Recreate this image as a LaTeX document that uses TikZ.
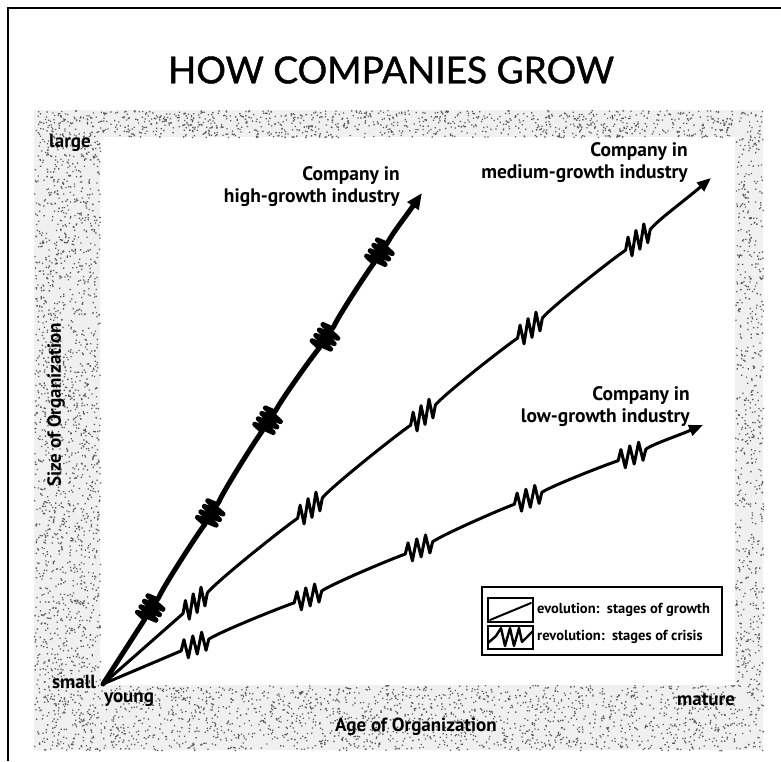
\documentclass[tikz,border=0pt]{standalone}
\usepackage{fontspec}
\setmainfont{PT Sans}
\newfontfamily\titlefont{Lato}[FakeBold=1.2]
\usetikzlibrary{decorations.pathmorphing,arrows.meta,calc}
\newcommand\zzpts[4]{%
  \coordinate (#1a) at ($(#1)!#4!(#2)$);
  \coordinate (#1b) at ($(#1)!#4!(#3)$);}
\begin{document}
\begin{tikzpicture}[x=1pt,y=-1pt,
  lbl/.style={font=\bfseries\fontsize{19.5}{22}\selectfont, align=right, inner sep=0pt, anchor=east},
  axl/.style={font=\bfseries\fontsize{19}{21}\selectfont, inner sep=0pt},
  leg/.style={font=\bfseries\fontsize{14.5}{16}\selectfont, anchor=west, inner sep=0pt},
  curve/.style={line width=3pt, line join=round, line cap=round, -{Triangle[length=14pt,width=11pt]}},
  zzh/.style={decoration={zigzag,segment length=6.5pt,amplitude=10pt}},
  box/.style={draw, line width=2pt},
  dot/.style={fill=black!65},
]
\useasboundingbox (0,0) rectangle (781,761);
% stippled band
\fill[black!6, even odd rule] (34,110) rectangle (763,750) (100,137) rectangle (735,685);
\pgfmathsetseed{7}
\path[dot] foreach \i in {1,...,2000}{ ({34+66*rnd},{110+640*rnd}) rectangle ++(1.3,1.3) };
\path[dot] foreach \i in {1,...,700}{ ({735+28*rnd},{110+640*rnd}) rectangle ++(1.3,1.3) };
\path[dot] foreach \i in {1,...,1000}{ ({100+635*rnd},{110+27*rnd}) rectangle ++(1.3,1.3) };
\path[dot] foreach \i in {1,...,1800}{ ({100+635*rnd},{685+65*rnd}) rectangle ++(1.3,1.3) };
% frame
\draw[line width=2.8pt] (781,8) -- (8,8) -- (8,761);
% title
\node[font=\titlefont\fontsize{37}{40}\selectfont] (title) at (391,70) {HOW COMPANIES GROW};

% coordinates
\coordinate (O) at (103,684);
\coordinate (h1) at (152,608); \coordinate (h2) at (212,513); \coordinate (h3) at (269,420);
\coordinate (h4) at (327,337); \coordinate (h5) at (381,252); \coordinate (hT) at (422,193);
\coordinate (m1) at (195,603); \coordinate (m2) at (310,508); \coordinate (m3) at (423,415);
\coordinate (m4) at (530,328); \coordinate (m5) at (638,240); \coordinate (mT) at (711,178);
\coordinate (l1) at (195,645); \coordinate (l2) at (308,597); \coordinate (l3) at (419,548);
\coordinate (l4) at (528,498); \coordinate (l5) at (632,455); \coordinate (lT) at (703,425);
\zzpts{h1}{O}{h2}{13pt} \zzpts{h2}{h1}{h3}{13pt} \zzpts{h3}{h2}{h4}{13pt}
\zzpts{h4}{h3}{h5}{13pt} \zzpts{h5}{h4}{hT}{13pt}
\zzpts{m1}{O}{m2}{16pt} \zzpts{m2}{m1}{m3}{16pt} \zzpts{m3}{m2}{m4}{16pt}
\zzpts{m4}{m3}{m5}{16pt} \zzpts{m5}{m4}{mT}{16pt}
\zzpts{l1}{O}{l2}{15pt} \zzpts{l2}{l1}{l3}{15pt} \zzpts{l3}{l2}{l4}{15pt}
\zzpts{l4}{l3}{l5}{15pt} \zzpts{l5}{l4}{lT}{15pt}

% high growth
\draw[curve, line width=5pt, -{Triangle[length=16pt,width=13pt]}] (O)
  -- (h1a) decorate[zzh]{-- (h1b)}
  .. controls ($(h1b)!0.15!8:(h2a)$) and ($(h2a)!0.15!-5:(h1b)$) .. (h2a) decorate[zzh]{-- (h2b)}
  .. controls ($(h2b)!0.15!8:(h3a)$) and ($(h3a)!0.15!-5:(h2b)$) .. (h3a) decorate[zzh]{-- (h3b)}
  .. controls ($(h3b)!0.15!8:(h4a)$) and ($(h4a)!0.15!-5:(h3b)$) .. (h4a) decorate[zzh]{-- (h4b)}
  .. controls ($(h4b)!0.15!8:(h5a)$) and ($(h5a)!0.15!-5:(h4b)$) .. (h5a) decorate[zzh]{-- (h5b)}
  .. controls ($(h5b)!0.15!8:(hT)$) and ($(hT)!0.5!(h5b)$) .. (hT);
% medium growth
\draw[curve] (O) -- (m1a)
  foreach \k/\s in {0.1/-1,0.26/1,0.42/-1,0.58/1,0.74/-1,0.9/1} { -- ($(m1a)!\k!(m1b)+(0,\s*11)$) } -- (m1b)
  .. controls ($(m1b)!0.15!10:(m2a)$) and ($(m2a)!0.15!-5:(m1b)$) .. (m2a)
  foreach \k/\s in {0.1/-1,0.26/1,0.42/-1,0.58/1,0.74/-1,0.9/1} { -- ($(m2a)!\k!(m2b)+(0,\s*11)$) } -- (m2b)
  .. controls ($(m2b)!0.15!10:(m3a)$) and ($(m3a)!0.15!-5:(m2b)$) .. (m3a)
  foreach \k/\s in {0.1/-1,0.26/1,0.42/-1,0.58/1,0.74/-1,0.9/1} { -- ($(m3a)!\k!(m3b)+(0,\s*11)$) } -- (m3b)
  .. controls ($(m3b)!0.15!10:(m4a)$) and ($(m4a)!0.15!-5:(m3b)$) .. (m4a)
  foreach \k/\s in {0.1/-1,0.26/1,0.42/-1,0.58/1,0.74/-1,0.9/1} { -- ($(m4a)!\k!(m4b)+(0,\s*11)$) } -- (m4b)
  .. controls ($(m4b)!0.15!10:(m5a)$) and ($(m5a)!0.15!-5:(m4b)$) .. (m5a)
  foreach \k/\s in {0.1/-1,0.26/1,0.42/-1,0.58/1,0.74/-1,0.9/1} { -- ($(m5a)!\k!(m5b)+(0,\s*11)$) } -- (m5b)
  .. controls ($(m5b)!0.15!12:(mT)$) and ($(mT)!0.5!(m5b)$) .. (mT);
% low growth
\draw[curve] (O) -- (l1a)
  foreach \k/\s in {0.1/-1,0.26/1,0.42/-1,0.58/1,0.74/-1,0.9/1} { -- ($(l1a)!\k!(l1b)+(0,\s*10)$) } -- (l1b)
  .. controls ($(l1b)!0.15!10:(l2a)$) and ($(l2a)!0.15!-5:(l1b)$) .. (l2a)
  foreach \k/\s in {0.1/-1,0.26/1,0.42/-1,0.58/1,0.74/-1,0.9/1} { -- ($(l2a)!\k!(l2b)+(0,\s*10)$) } -- (l2b)
  .. controls ($(l2b)!0.15!10:(l3a)$) and ($(l3a)!0.15!-5:(l2b)$) .. (l3a)
  foreach \k/\s in {0.1/-1,0.26/1,0.42/-1,0.58/1,0.74/-1,0.9/1} { -- ($(l3a)!\k!(l3b)+(0,\s*10)$) } -- (l3b)
  .. controls ($(l3b)!0.15!10:(l4a)$) and ($(l4a)!0.15!-5:(l3b)$) .. (l4a)
  foreach \k/\s in {0.1/-1,0.26/1,0.42/-1,0.58/1,0.74/-1,0.9/1} { -- ($(l4a)!\k!(l4b)+(0,\s*10)$) } -- (l4b)
  .. controls ($(l4b)!0.15!10:(l5a)$) and ($(l5a)!0.15!-5:(l4b)$) .. (l5a)
  foreach \k/\s in {0.1/-1,0.26/1,0.42/-1,0.58/1,0.74/-1,0.9/1} { -- ($(l5a)!\k!(l5b)+(0,\s*10)$) } -- (l5b)
  .. controls ($(l5b)!0.15!12:(lT)$) and ($(lT)!0.5!(l5b)$) .. (lT);

% curve labels
\node[lbl] (hl) at (400,187) {Company in\\high-growth industry};
\node[lbl] (ml) at (688,163) {Company in\\medium-growth industry};
\node[lbl] (ll) at (690,407) {Company in\\low-growth industry};

% axis labels
\node[axl] (large) at (70,143) {large};
\node[axl] (small) at (74,682) {small};
\node[axl] (young) at (129,700) {young};
\node[axl] (mature) at (706,700) {mature};
\node[axl] (age) at (416,727) {Age of Organization};
\node[axl, rotate=90] (size) at (56,405) {Size of Organization};

% legend
\draw[box] (482,587) rectangle (722,655);
\draw[box] (488,598) rectangle (533,622);
\draw[line width=2pt, line cap=round] (490,620) -- (531,603);
\draw[box] (488,626) rectangle (533,649);
\draw[line width=2.4pt, line join=round] (488,643) -- (496,636) -- (501,628) -- (505,646) -- (510,628) -- (514,646) -- (519,628) -- (522,642) -- (533,631);
\node[leg] (evo) at (537,610) {evolution:\ \ stages of growth};
\node[leg] (rev) at (537,637) {revolution:\ \ stages of crisis};
\end{tikzpicture}
\end{document}
